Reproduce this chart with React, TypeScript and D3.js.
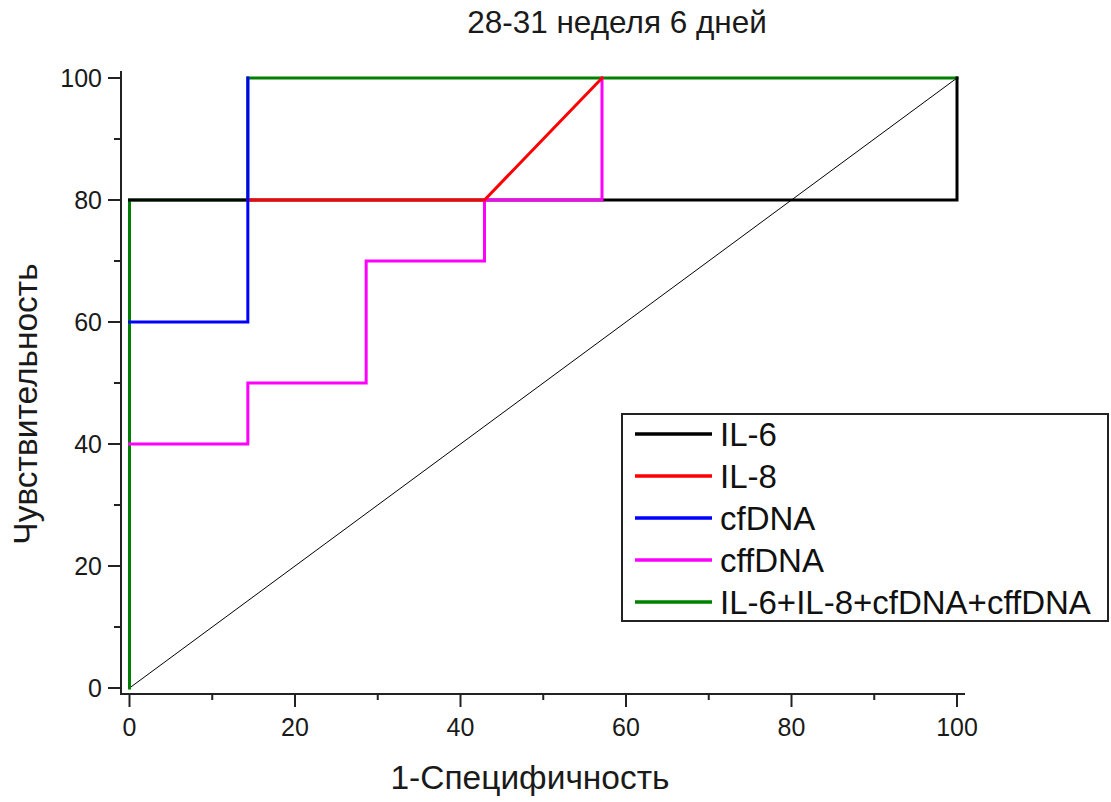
import React from "react";
import * as d3 from "d3";

// Visible vertices of each ROC curve (1-Specificity %, Sensitivity %)
const il6X = [0, 100, 100];
const il6Y = [80, 80, 100];
const il8X = [14.3, 42.9, 50, 57.1];
const il8Y = [80, 80, 90, 100];
const cfdnaX = [0, 14.3, 14.3];
const cfdnaY = [60, 60, 100];
const cffdnaX = [0, 14.3, 14.3, 28.6, 28.6, 42.9, 42.9, 57.1, 57.1];
const cffdnaY = [40, 40, 50, 50, 70, 70, 80, 80, 100];
const comboX = [0, 0, 14.3, 14.3, 100];
const comboY = [0, 80, 80, 100, 100];
const refX = [0, 100];
const refY = [0, 100];

const seriesNames = ["IL-6", "IL-8", "cfDNA", "cffDNA", "IL-6+IL-8+cfDNA+cffDNA"];
const seriesColors = ["#000000", "#ff0000", "#0000ff", "#ff00ff", "#008000"];
const majorTicks = [0, 20, 40, 60, 80, 100];
const minorTicks = [10, 30, 50, 70, 90];

const title = "28-31 неделя 6 дней";
const xTitle = "1-Специфичность";
const yTitle = "Чувствительность";

const FONT = "'Liberation Sans', Arial, sans-serif";
const TXT = "#1a1a1a";

export default function App() {
  const x = d3.scaleLinear().domain([0, 100]).range([129.5, 957]);
  const y = d3.scaleLinear().domain([0, 100]).range([688, 78]);
  const axisX = 121;
  const axisY = 694;

  const line = d3
    .line<[number, number]>()
    .x((d) => x(d[0]))
    .y((d) => y(d[1]));
  const pts = (xs: number[], ys: number[]) => xs.map((v, i) => [v, ys[i]] as [number, number]);

  // draw order so overlaps match the reference
  const drawOrder = [
    { xs: comboX, ys: comboY, c: seriesColors[4] },
    { xs: il6X, ys: il6Y, c: seriesColors[0] },
    { xs: cffdnaX, ys: cffdnaY, c: seriesColors[3] },
    { xs: il8X, ys: il8Y, c: seriesColors[1] },
    { xs: cfdnaX, ys: cfdnaY, c: seriesColors[2] },
  ];

  const legX = 622, legY = 414, legW = 486, legH = 207;
  const rowY0 = 434, rowStep = 42;

  return (
    <svg width={1111} height={802} style={{ position: "absolute", left: 0, top: 0, background: "#fff" }}>
      <rect width={1111} height={802} fill="#fff" />
      <text x={617} y={33} textAnchor="middle" fontFamily={FONT} fontSize={31.5} fill={TXT}>
        {title}
      </text>

      {/* reference diagonal */}
      <path d={line(pts(refX, refY)) || ""} stroke="#000" strokeWidth={1} fill="none" />

      {drawOrder.map((s, i) => (
        <path
          key={i}
          d={line(pts(s.xs, s.ys)) || ""}
          stroke={s.c}
          strokeWidth={3}
          fill="none"
          strokeLinejoin="miter"
          strokeLinecap="square"
        />
      ))}

      {/* axes */}
      <line x1={axisX} x2={axisX} y1={71} y2={axisY + 1} stroke="#222" strokeWidth={2} />
      <line x1={axisX - 1} x2={965} y1={axisY} y2={axisY} stroke="#222" strokeWidth={2} />
      {majorTicks.map((t) => (
        <g key={"y" + t}>
          <line x1={axisX - 13} x2={axisX} y1={y(t)} y2={y(t)} stroke="#222" strokeWidth={2} />
          <text x={102} y={y(t) + 9} textAnchor="end" fontFamily={FONT} fontSize={25} fill={TXT}>
            {t}
          </text>
        </g>
      ))}
      {minorTicks.map((t) => (
        <line key={"ym" + t} x1={axisX - 7} x2={axisX} y1={y(t)} y2={y(t)} stroke="#222" strokeWidth={2} />
      ))}
      {majorTicks.map((t) => (
        <g key={"x" + t}>
          <line x1={x(t)} x2={x(t)} y1={axisY} y2={axisY + 13} stroke="#222" strokeWidth={2} />
          <text x={x(t)} y={736} textAnchor="middle" fontFamily={FONT} fontSize={25} fill={TXT}>
            {t}
          </text>
        </g>
      ))}
      {minorTicks.map((t) => (
        <line key={"xm" + t} x1={x(t)} x2={x(t)} y1={axisY} y2={axisY + 6} stroke="#222" strokeWidth={2} />
      ))}

      <text x={530} y={789} textAnchor="middle" fontFamily={FONT} fontSize={33.5} fill={TXT}>
        {xTitle}
      </text>
      <text
        transform={`translate(37,404) rotate(-90)`}
        textAnchor="middle"
        fontFamily={FONT}
        fontSize={33.5}
        fill={TXT}
      >
        {yTitle}
      </text>

      {/* legend */}
      <rect x={legX} y={legY} width={legW} height={legH} fill="#fff" stroke="#222" strokeWidth={2} />
      {seriesNames.map((n, i) => (
        <g key={n}>
          <line
            x1={635}
            x2={712}
            y1={rowY0 + i * rowStep}
            y2={rowY0 + i * rowStep}
            stroke={seriesColors[i]}
            strokeWidth={3.5}
          />
          <text x={720} y={rowY0 + i * rowStep + 12} fontFamily={FONT} fontSize={33} fill="#111">
            {n}
          </text>
        </g>
      ))}
    </svg>
  );
}
